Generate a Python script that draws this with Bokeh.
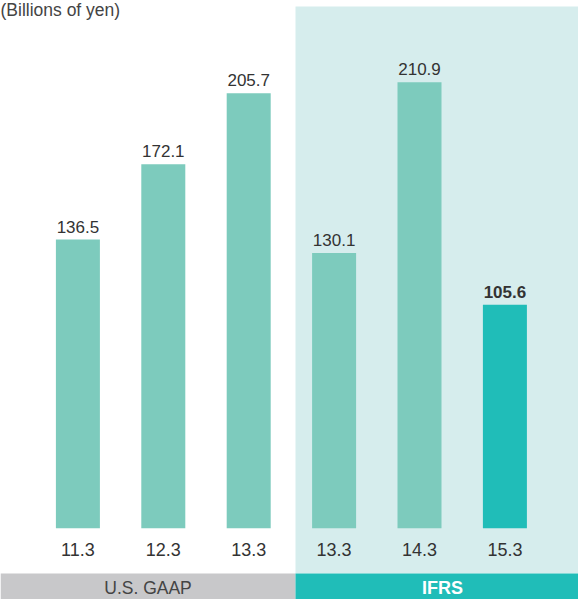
from bokeh.plotting import figure
from bokeh.models import ColumnDataSource, BoxAnnotation, Label, Range1d
from bokeh.embed import file_html
from bokeh.resources import INLINE
from bokeh.core.properties import value

# ---- data ----
periods = ["11.3", "12.3", "13.3", "13.3", "14.3", "15.3"]
profits = [136.5, 172.1, 205.7, 130.1, 210.9, 105.6]
standards = ["U.S. GAAP", "U.S. GAAP", "U.S. GAAP", "IFRS", "IFRS", "IFRS"]
standard_names = ["U.S. GAAP", "IFRS"]
unit_label = "(Billions of yen)"

# ---- layout ----
W, H = 578, 599
PX_PER_BAR = 85.4
FIRST_CENTER = 77.4
BASE_Y = 527.7
PX_PER_UNIT = 2.115


def dx(cx):
    return (cx - FIRST_CENTER) / PX_PER_BAR


def dy(cy):
    return (BASE_Y - cy) / PX_PER_UNIT


BAR_LIGHT = "#7DCBBD"
BAR_HI = "#20BDB8"
SHADE = "#D6EDED"
GRAY = "#C8C8CA"
TEXT = "#333333"

n = len(profits)
idx = list(range(n))
colors = [BAR_HI if i == n - 1 else BAR_LIGHT for i in idx]
weights = ["bold" if i == n - 1 else "normal" for i in idx]
vlabels = [f"{v:.1f}" for v in profits]

src = ColumnDataSource(dict(x=idx, top=profits, color=colors, weight=weights,
                            label=vlabels, period=periods,
                            tick_y=[dy(549)] * n))

p = figure(width=W, height=H, x_range=Range1d(dx(0), dx(W)),
           y_range=Range1d(dy(H), dy(0)), output_backend="svg",
           toolbar_location=None, min_border=0, outline_line_color=None,
           x_axis_location=None, y_axis_location=None,
           background_fill_color="white", border_fill_color="white")
p.grid.visible = False

split = 295
p.add_layout(BoxAnnotation(left=dx(split), right=dx(W), bottom=dy(573), top=dy(6),
                           fill_color=SHADE, fill_alpha=1, line_color=None, level="underlay"))
p.add_layout(BoxAnnotation(left=dx(0), right=dx(split), bottom=dy(H), top=dy(573),
                           fill_color=GRAY, fill_alpha=1, line_color=None, level="underlay"))
p.add_layout(BoxAnnotation(left=dx(split), right=dx(W), bottom=dy(H), top=dy(573),
                           fill_color=BAR_HI, fill_alpha=1, line_color=None, level="underlay"))

p.vbar(x="x", top="top", bottom=0, width=44 / PX_PER_BAR, fill_color="color",
       line_color=None, source=src)

p.text(x="x", y="top", text="label", y_offset=-13, text_align="center",
       text_baseline="middle", text_font=value("Liberation Sans"),
       text_font_size="17px", text_font_style="weight", text_color=TEXT, source=src)

p.text(x="x", y="tick_y", text="period", text_align="center",
       text_baseline="middle", text_font=value("Liberation Sans"),
       text_font_size="18px", text_color=TEXT, source=src)

p.add_layout(Label(x=dx(split / 2), y=dy(587), text=standard_names[0],
                   text_align="center", text_baseline="middle",
                   text_font="Liberation Sans", text_font_size="17.5px",
                   text_color="#444444"))
p.add_layout(Label(x=dx(442), y=dy(587), text=standard_names[1],
                   text_align="center", text_baseline="middle",
                   text_font="Liberation Sans", text_font_size="18px",
                   text_font_style="bold", text_color="white"))

p.add_layout(Label(x=dx(0), y=dy(9.5), text=unit_label, text_align="left",
                   text_baseline="middle", text_font="Liberation Sans",
                   text_font_size="17.5px", text_color="#444444"))

open("out.html", "w").write(file_html(p, INLINE))
